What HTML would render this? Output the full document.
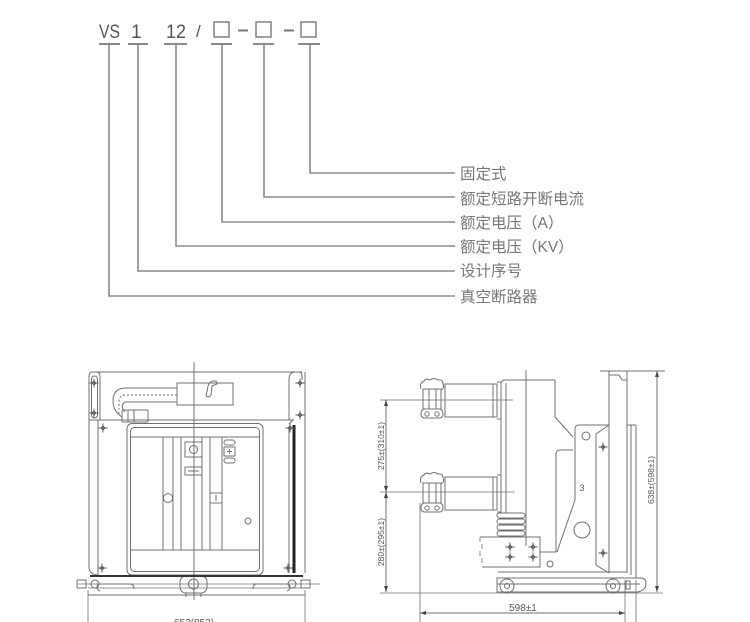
<!DOCTYPE html>
<html><head><meta charset="utf-8"><style>
html,body{margin:0;padding:0;background:#fff;}
svg{display:block;}
</style></head><body>
<svg width="750" height="622" viewBox="0 0 750 622" xmlns="http://www.w3.org/2000/svg">
<defs>
<g id="ch" stroke="#555" stroke-width="0.9" fill="none"><path d="M-4.5,0h9M0,-4.5v9"/><path d="M0,-2L2,0L0,2L-2,0Z" fill="#777"/></g>
</defs>
<rect width="750" height="622" fill="#fff"/>

<!-- ===== TOP: model code ===== -->
<g font-family="Liberation Sans, sans-serif" fill="#555" font-size="19">
<text x="99" y="38" textLength="21" lengthAdjust="spacingAndGlyphs">VS</text>
<text x="131" y="38">1</text>
<text x="166" y="38" textLength="20" lengthAdjust="spacingAndGlyphs">12</text>
<text x="196" y="37" font-size="17">/</text>
</g>
<g stroke="#777" stroke-width="1.4" fill="none">
<rect x="214" y="22" width="15" height="15"/>
<rect x="256" y="22" width="15" height="15"/>
<rect x="301" y="22" width="15" height="15"/>
</g>
<g stroke="#777" stroke-width="2" fill="none">
<path d="M238,30.5h10M284,30.5h10"/>
</g>
<g stroke="#8a8a8a" stroke-width="2" fill="none">
<path d="M99,44h21M128,44h20M164,44h23M211,44h21M253,44h21M298,44h22"/>
</g>
<g stroke="#8a8a8a" stroke-width="1.6" fill="none">
<path d="M109,44V296H455"/>
<path d="M138,44V271H455"/>
<path d="M176,44V246H455"/>
<path d="M222,44V222H455"/>
<path d="M264,44V197H455"/>
<path d="M310,44V173H455"/>
</g>
<g font-family="Liberation Sans, 'Noto Sans CJK SC', sans-serif" fill="#777" font-size="15.5">
<text x="460" y="179">固定式</text>
<text x="460" y="204">额定短路开断电流</text>
<text x="460" y="228">额定电压（A）</text>
<text x="460" y="252">额定电压（KV）</text>
<text x="460" y="276">设计序号</text>
<text x="460" y="302">真空断路器</text>
</g>

<!-- ===== BOTTOM LEFT: front view ===== -->
<g stroke="#707070" stroke-width="1" fill="none">
<path d="M92,372H302"/>
<path d="M89,376q0,-4 4,-4"/>
<path d="M89,376V566q0,9 9,9"/>
<path d="M100,376q0,-4 -4,-4"/>
<path d="M100,376V420"/>
<path d="M89,420H294"/>
<path d="M98,420V575"/>
<rect x="91.5" y="376" width="6" height="42" rx="3"/>
<path d="M305,372V573"/>
<path d="M289,380q0,-8 6,-8h4q3,0 3,4v4"/>
<path d="M289,380V420"/>
<path d="M289,428V573"/>
<path d="M293,420l-4,4"/>
<rect x="177" y="383" width="56" height="22"/>
<path d="M206,396l2,-10q1,-4 5,-5h3l1,3l-5,2l-1,9q-2,3 -5,1z"/>
<path d="M177,388H126q-13,0 -13,13q0,10 9,16"/>
<path d="M177,402H126q-2,0 -3,2q-2,4 2,8"/>
<path d="M177,395H126q-7,0 -7,7v12" stroke-dasharray="2,2"/>
<rect x="122" y="410" width="26" height="12" rx="1"/>
<path d="M128,410v12M134,410v12"/>
<rect x="127" y="423.5" width="136" height="151.5" rx="5"/>
<rect x="130.5" y="427.5" width="129" height="144" rx="4"/>
<path d="M130.5,437H259.5M130.5,550H259.5"/>
<path d="M163,437V550M173,437V550M181,437V550M202,437V550M210,437V550M222,437V550"/>
<rect x="185" y="442" width="17" height="15"/>
<circle cx="193.5" cy="449.5" r="4"/>
<rect x="185" y="467" width="17" height="8"/>
<path d="M188,471h11"/>
<circle cx="168" cy="498" r="4.5"/>
<rect x="210" y="493" width="12" height="10"/>
<path d="M216,495v6"/>
<rect x="224" y="440" width="11" height="5" rx="2.5"/>
<rect x="224" y="447" width="11" height="9"/>
<path d="M227,451.5h5M229.5,449v5"/>
<rect x="224" y="458" width="11" height="5" rx="2.5"/>
<circle cx="248" cy="521" r="3"/>
<path d="M194,362V600"/>
<path d="M77,584H320" stroke-width="0.8"/>
<path d="M88,588H307" stroke-width="0.8"/>
<rect x="77" y="580" width="9" height="8"/>
<circle cx="95" cy="584" r="4"/>
<path d="M100,591q-5,-2 -2,-7h36"/>
<path d="M130,584q4,0 4,5"/>
<rect x="301" y="580" width="9" height="8"/>
<circle cx="292" cy="584" r="4"/>
<path d="M287,591q5,-2 2,-7h-36"/>
<path d="M257,584q-4,0 -4,5"/>
<rect x="180" y="576" width="27" height="17" rx="6"/>
<circle cx="193.5" cy="584" r="5"/>
<path d="M186,593v4M201,593v4"/>
<path d="M88,595H305"/>
<path d="M88,590V622M305,590V622" stroke-width="0.8"/>
</g>
<path d="M90,576H303" stroke="#333" stroke-width="2"/>
<rect x="292.5" y="425" width="3" height="148" fill="#222"/>
<g>
<use href="#ch" x="94" y="383"/><use href="#ch" x="94" y="413"/>
<use href="#ch" x="103" y="428"/><use href="#ch" x="300" y="383"/>
<use href="#ch" x="300" y="415"/><use href="#ch" x="290" y="428"/>
<use href="#ch" x="102" y="568"/><use href="#ch" x="288" y="568"/>
</g>
<text x="194" y="626" font-family="Liberation Sans, sans-serif" font-size="10" fill="#555" text-anchor="middle">652(852)</text>

<!-- ===== BOTTOM RIGHT: side view ===== -->
<g stroke="#707070" stroke-width="1" fill="none">
<path d="M386,400V592"/>
<path d="M380,400H513M380,492H515M380,593H663" stroke-width="0.8"/>
<!-- upper contact -->
<path d="M421,389q-2,-6 3,-8q2,-3 6,-1q4,-3 8,0q5,-1 5,4q2,4 -2,6"/>
<rect x="423" y="389" width="18" height="20"/>
<path d="M429,389v20M436,389v20"/>
<path d="M421,414q0,-5 4,-5h14q4,0 4,5q0,4 -4,4h-14q-4,0 -4,-4z"/>
<circle cx="427" cy="414" r="2.2"/><circle cx="437" cy="414" r="2.2"/>
<rect x="445" y="384" width="48" height="33"/>
<path d="M493,384h4v33h-4M497,382h4v37h-4"/>
<!-- lower contact -->
<path d="M421,483q-2,-6 3,-8q2,-3 6,-1q4,-3 8,0q5,-1 5,4q2,4 -2,6"/>
<rect x="423" y="483" width="18" height="20"/>
<path d="M429,483v20M436,483v20"/>
<path d="M421,508q0,-5 4,-5h14q4,0 4,5q0,4 -4,4h-14q-4,0 -4,-4z"/>
<circle cx="427" cy="508" r="2.2"/><circle cx="437" cy="508" r="2.2"/>
<rect x="445" y="477" width="48" height="33"/>
<path d="M493,477h4v33h-4M497,475h4v37h-4"/>
<!-- body -->
<path d="M501,513V384q0,-3 3,-4H555V417L573,437"/>
<path d="M506,383V513"/>
<path d="M526,370V546"/>
<rect x="497" y="513" width="28" height="5" rx="2.5"/>
<rect x="497" y="519" width="28" height="5" rx="2.5"/>
<rect x="497" y="525" width="28" height="5" rx="2.5"/>
<rect x="497" y="531" width="28" height="5" rx="2.5"/>
<path d="M480,537H540V567H482"/>
<path d="M480,537v5M482,544v5M480,551v5M482,558v5" stroke-width="0.8"/>
<path d="M540,552H556"/>
<path d="M609,425H579q-4,0 -4,4V500L557,552"/>
<path d="M573,450H560q-4,0 -4,4V552H540"/>
<path d="M609,425L596,434V565L609,573"/>
<circle cx="586" cy="436" r="4"/>
<circle cx="582" cy="530" r="8"/>
<circle cx="550" cy="564" r="3"/>
<path d="M600,371H665"/>
<path d="M609,371V573M627,371V573"/>
<path d="M609,375h10l3,5h5"/>
<path d="M631,425V575M636,425V578"/>
<path d="M627,425h9"/>
<path d="M498,572H627"/>
<path d="M497,578H640q6,0 6,5q0,6 -5,8l-3,1H497z"/>
<path d="M497,584H640"/>
<circle cx="507" cy="586" r="7"/><circle cx="507" cy="586" r="2.5"/>
<circle cx="613" cy="586" r="7"/><circle cx="613" cy="586" r="2.5"/>
<rect x="626" y="581" width="4" height="8"/>
<path d="M420,503V622M625,580V622M636,580V622" stroke-width="0.8"/>
<path d="M420,613H625"/>
<path d="M657,371V592"/>
</g>
<g fill="#444">
<path d="M386,400l-2,6h4z"/>
<path d="M386,492l-2,-6h4z"/>
<path d="M386,492l-2,6h4z"/>
<path d="M386,592l-2,-6h4z"/>
<path d="M420,613l6,-2v4z"/>
<path d="M625,613l-6,-2v4z"/>
<path d="M657,371l-2,6h4z"/>
<path d="M657,592l-2,-6h4z"/>
</g>
<g>
<use href="#ch" x="510" y="547"/><use href="#ch" x="533" y="547"/>
<use href="#ch" x="510" y="557"/><use href="#ch" x="533" y="557"/>
<use href="#ch" x="603" y="447"/><use href="#ch" x="603" y="553"/>
</g>
<g font-family="Liberation Sans, sans-serif" font-size="8.5" fill="#555" text-anchor="middle">
<text transform="translate(384,446) rotate(-90)">275±(310±1)</text>
<text transform="translate(384,542) rotate(-90)">280±(295±1)</text>
<text transform="translate(654,480) rotate(-90)">638±(598±1)</text>
<text x="523" y="611" font-size="10">598±1</text>
<text x="582" y="491" font-size="9">3</text>
</g>
</svg>
</body></html>
